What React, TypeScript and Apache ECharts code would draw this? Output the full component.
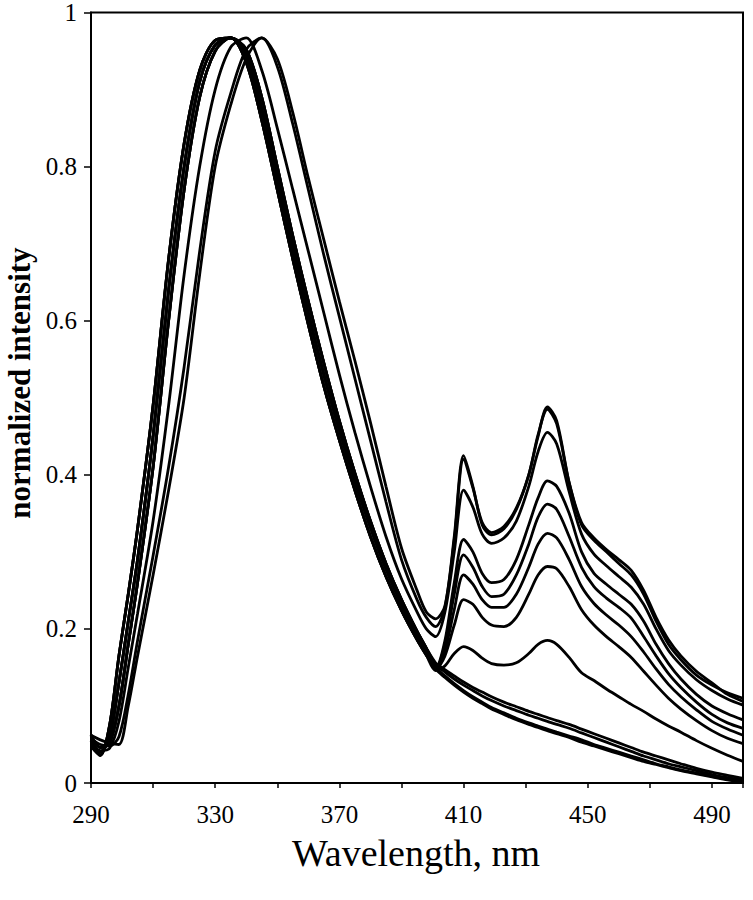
import React, { useEffect, useRef } from "react";
import * as echarts from "echarts";

// Wavelength grid (nm), shared by all spectra
const WAVELENGTHS = [290, 293, 296, 299, 302, 305, 310, 315, 320, 325, 330, 335, 340, 345, 350, 355, 360, 365, 370, 375, 380, 385, 390, 395, 398,
  401, 404, 407, 410, 413, 416, 419, 423, 427, 431, 434, 437, 440, 444, 448, 452, 456, 460, 464, 468, 472, 476, 480, 485, 490, 495, 500];

// Donor band parts (290–398 nm)
const DONOR_B0 = [0.048, 0.036, 0.075, 0.165, 0.245, 0.33, 0.49, 0.68, 0.83, 0.925, 0.964, 0.967, 0.935, 0.86, 0.77, 0.68, 0.595, 0.515, 0.445, 0.38, 0.32, 0.268, 0.224, 0.186, 0.166];
const DONOR_B1 = [0.055, 0.04, 0.06, 0.13, 0.21, 0.29, 0.45, 0.64, 0.80, 0.91, 0.958, 0.967, 0.945, 0.875, 0.785, 0.695, 0.61, 0.53, 0.458, 0.392, 0.332, 0.278, 0.232, 0.192, 0.171];
const DONOR_B2 = [0.062, 0.046, 0.052, 0.10, 0.18, 0.26, 0.41, 0.60, 0.77, 0.89, 0.95, 0.967, 0.952, 0.89, 0.80, 0.71, 0.625, 0.545, 0.47, 0.402, 0.34, 0.285, 0.238, 0.197, 0.175];
const DONOR_S = [0.052, 0.042, 0.045, 0.08, 0.15, 0.22, 0.34, 0.49, 0.66, 0.80, 0.90, 0.955, 0.967, 0.925, 0.85, 0.77, 0.69, 0.61, 0.53, 0.455, 0.385, 0.32, 0.265, 0.222, 0.2];
const DONOR_T2 = [0.058, 0.05, 0.048, 0.06, 0.115, 0.185, 0.295, 0.41, 0.54, 0.69, 0.82, 0.895, 0.952, 0.967, 0.93, 0.855, 0.77, 0.685, 0.605, 0.525, 0.445, 0.365, 0.29, 0.238, 0.215];
const DONOR_T1 = [0.062, 0.056, 0.052, 0.05, 0.10, 0.165, 0.27, 0.38, 0.50, 0.66, 0.80, 0.88, 0.94, 0.967, 0.94, 0.87, 0.785, 0.705, 0.625, 0.548, 0.468, 0.385, 0.305, 0.25, 0.222];

// Red parts (401–500 nm)
const TAIL_T1 = [0.213, 0.23, 0.32, 0.425, 0.385, 0.335, 0.322, 0.33, 0.355, 0.40, 0.45, 0.488, 0.47, 0.39, 0.335, 0.315, 0.30, 0.285, 0.27, 0.245, 0.21, 0.18, 0.16, 0.14, 0.127, 0.117, 0.11];
const TAIL_T2 = [0.203, 0.228, 0.315, 0.42, 0.383, 0.338, 0.325, 0.333, 0.357, 0.40, 0.452, 0.485, 0.466, 0.39, 0.338, 0.318, 0.303, 0.29, 0.276, 0.25, 0.215, 0.186, 0.165, 0.145, 0.13, 0.115, 0.106];
const TAIL_S = [0.19, 0.222, 0.30, 0.38, 0.358, 0.323, 0.311, 0.318, 0.34, 0.385, 0.43, 0.455, 0.44, 0.378, 0.323, 0.297, 0.282, 0.268, 0.254, 0.232, 0.20, 0.172, 0.153, 0.134, 0.12, 0.109, 0.101];
const TAIL_A3 = [0.150, 0.185, 0.26, 0.316, 0.30, 0.272, 0.26, 0.264, 0.29, 0.335, 0.37, 0.392, 0.385, 0.35, 0.30, 0.272, 0.258, 0.245, 0.232, 0.21, 0.18, 0.155, 0.135, 0.115, 0.1, 0.09, 0.082];
const TAIL_A4 = [0.149, 0.18, 0.245, 0.296, 0.28, 0.255, 0.242, 0.245, 0.27, 0.31, 0.345, 0.362, 0.355, 0.32, 0.28, 0.255, 0.24, 0.228, 0.214, 0.19, 0.165, 0.142, 0.124, 0.105, 0.089, 0.078, 0.071];
const TAIL_A5 = [0.148, 0.172, 0.225, 0.27, 0.258, 0.238, 0.228, 0.228, 0.245, 0.28, 0.31, 0.324, 0.318, 0.29, 0.255, 0.233, 0.218, 0.205, 0.19, 0.17, 0.148, 0.128, 0.112, 0.095, 0.08, 0.07, 0.062];
const TAIL_A6 = [0.147, 0.165, 0.205, 0.238, 0.232, 0.215, 0.205, 0.203, 0.215, 0.245, 0.27, 0.281, 0.278, 0.255, 0.225, 0.205, 0.19, 0.177, 0.163, 0.145, 0.127, 0.11, 0.096, 0.081, 0.068, 0.058, 0.051];
const TAIL_A7 = [0.146, 0.152, 0.168, 0.177, 0.172, 0.162, 0.155, 0.153, 0.156, 0.168, 0.18, 0.185, 0.18, 0.163, 0.143, 0.133, 0.122, 0.112, 0.102, 0.093, 0.083, 0.074, 0.066, 0.055, 0.045, 0.036, 0.028];
const TAIL_N1 = [0.156, 0.147, 0.139, 0.131, 0.124, 0.118, 0.112, 0.105, 0.099, 0.093, 0.089, 0.085, 0.081, 0.076, 0.07, 0.064, 0.058, 0.052, 0.046, 0.04, 0.035, 0.03, 0.025, 0.019, 0.014, 0.01, 0.006];
const TAIL_N2 = [0.154, 0.144, 0.135, 0.127, 0.12, 0.113, 0.107, 0.1, 0.094, 0.088, 0.084, 0.08, 0.076, 0.071, 0.065, 0.059, 0.053, 0.047, 0.041, 0.035, 0.03, 0.025, 0.021, 0.016, 0.011, 0.007, 0.004];
const TAIL_N3 = [0.150, 0.139, 0.129, 0.12, 0.112, 0.105, 0.098, 0.091, 0.084, 0.078, 0.074, 0.07, 0.066, 0.061, 0.056, 0.05, 0.045, 0.04, 0.035, 0.03, 0.025, 0.021, 0.017, 0.013, 0.009, 0.005, 0.002];
const TAIL_N4 = [0.148, 0.137, 0.127, 0.118, 0.11, 0.103, 0.096, 0.089, 0.082, 0.076, 0.072, 0.068, 0.064, 0.059, 0.053, 0.048, 0.043, 0.038, 0.033, 0.028, 0.024, 0.02, 0.016, 0.012, 0.008, 0.004, 0.001];

const SPECTRA = [
  { name: "1", donor: DONOR_T1, tail: TAIL_T1 },
  { name: "2", donor: DONOR_T2, tail: TAIL_T2 },
  { name: "3", donor: DONOR_S, tail: TAIL_S },
  { name: "4", donor: DONOR_B1, tail: TAIL_A3 },
  { name: "5", donor: DONOR_B0, tail: TAIL_A4 },
  { name: "6", donor: DONOR_B2, tail: TAIL_A5 },
  { name: "7", donor: DONOR_B1, tail: TAIL_A6 },
  { name: "8", donor: DONOR_B0, tail: TAIL_A7 },
  { name: "9", donor: DONOR_B2, tail: TAIL_N1 },
  { name: "10", donor: DONOR_B2, tail: TAIL_N2 },
  { name: "11", donor: DONOR_B0, tail: TAIL_N3 },
  { name: "12", donor: DONOR_B1, tail: TAIL_N4 },
];

const X_TICK_LABELS = [290, 330, 370, 410, 450, 490];
const Y_TICK_LABELS = [0, 0.2, 0.4, 0.6, 0.8, 1];

const SERIF = "'Liberation Serif', 'Times New Roman', serif";

export default function App() {
  const ref = useRef<HTMLDivElement>(null);
  useEffect(() => {
    if (!ref.current) return;
    const chart = echarts.init(ref.current, undefined, { renderer: "svg" });
    const series = SPECTRA.map((s) => {
      const vals = [...s.donor, ...s.tail];
      return {
        name: s.name,
        type: "line",
        data: WAVELENGTHS.map((w, i) => [w, vals[i]]),
        showSymbol: false,
        symbol: "none",
        smooth: 0.3,
        lineStyle: { color: "#000", width: 2.8 },
        silent: true,
      };
    });
    chart.setOption({
      animation: false,
      backgroundColor: "#fff",
      grid: { left: 91, right: 10, top: 12, bottom: 117, show: true, borderColor: "#000", borderWidth: 2 },
      xAxis: {
        type: "value",
        min: 290,
        max: 500,
        interval: 20,
        axisLine: { show: true, lineStyle: { color: "#000", width: 2 } },
        axisTick: { show: true, length: 5, lineStyle: { color: "#000", width: 1.5 } },
        splitLine: { show: false },
        axisLabel: {
          formatter: (v: number) => (X_TICK_LABELS.includes(Math.round(v)) ? String(Math.round(v)) : ""),
          fontFamily: SERIF,
          fontSize: 25,
          color: "#000",
          margin: 19,
        },
      },
      yAxis: {
        type: "value",
        min: 0,
        max: 1,
        interval: 0.2,
        axisLine: { show: true, lineStyle: { color: "#000", width: 2 } },
        axisTick: { show: true, length: 7, lineStyle: { color: "#000", width: 1.5 } },
        splitLine: { show: false },
        axisLabel: {
          formatter: (v: number) => {
            const r = Math.round(v * 10) / 10;
            return Y_TICK_LABELS.includes(r) ? String(r) : "";
          },
          fontFamily: SERIF,
          fontSize: 25,
          color: "#000",
          margin: 14,
        },
      },
      graphic: [
        {
          type: "text",
          x: 416,
          y: 853,
          style: {
            text: "Wavelength, nm",
            font: `38px ${SERIF}`,
            fill: "#000",
            align: "center",
            verticalAlign: "middle",
          },
        },
        {
          type: "text",
          x: 19,
          y: 383,
          rotation: Math.PI / 2,
          style: {
            text: "normalized intensity",
            font: `bold 31px ${SERIF}`,
            fill: "#000",
            align: "center",
            verticalAlign: "middle",
          },
        },
      ],
      series,
    });
    return () => chart.dispose();
  }, []);
  return <div ref={ref} style={{ position: "fixed", left: 0, top: 0, width: 753, height: 900 }} />;
}
